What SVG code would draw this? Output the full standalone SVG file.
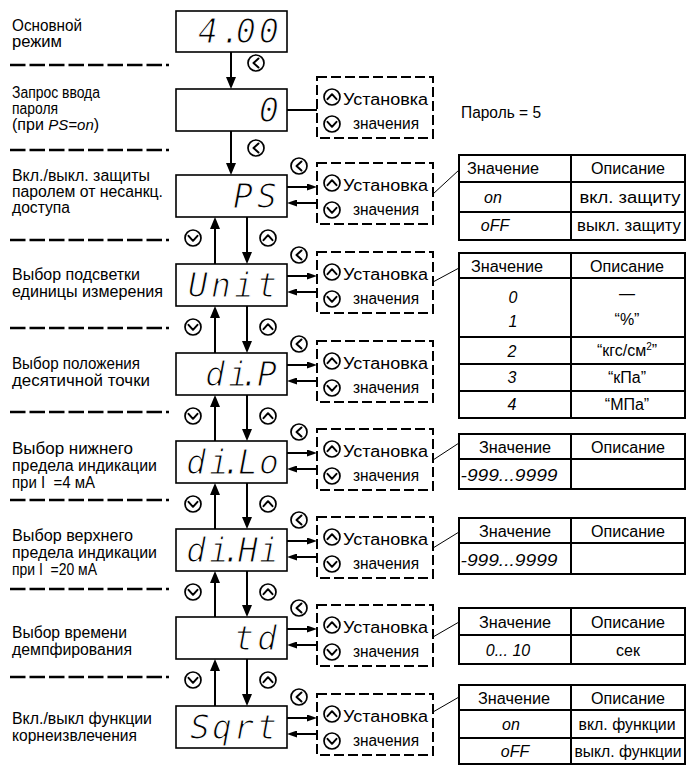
<svg xmlns="http://www.w3.org/2000/svg" xmlns:xlink="http://www.w3.org/1999/xlink" width="687" height="767" viewBox="0 0 687 767">
<style>
.lbl{font-family:"Liberation Sans",Arial,sans-serif;font-size:16px;fill:#000}
.seg{font-family:"DejaVu Sans Mono","Liberation Mono",monospace;font-style:oblique;font-size:33px;fill:#000;stroke:#fff;stroke-width:1.1}
.tv{font-family:"Liberation Sans",Arial,sans-serif;font-style:italic;font-size:16px;fill:#000;text-anchor:middle}
.tt{font-family:"Liberation Sans",Arial,sans-serif;font-size:16px;fill:#000;text-anchor:middle}
.disp{fill:#fff;stroke:#000;stroke-width:1.6}
.dbox{fill:none;stroke:#000;stroke-width:2;stroke-dasharray:10 4}
.sep{stroke:#000;stroke-width:2.5;stroke-dasharray:15.5 4;fill:none}
.tbl{fill:none;stroke:#000;stroke-width:2}
.ln{stroke:#000;stroke-width:2;fill:none}
.thin{stroke:#000;stroke-width:1;fill:none}
.bc{fill:#fff;stroke:#000;stroke-width:1.7}
.ch{fill:none;stroke:#000;stroke-width:2;stroke-linecap:round;stroke-linejoin:round}
</style>
<defs>
<marker id="av" viewBox="0 0 12 10" refX="2" refY="5" markerWidth="12" markerHeight="10" markerUnits="userSpaceOnUse" orient="auto"><path d="M0,0 L12,5 L0,10 z" fill="#000"/></marker>
<marker id="ahz" viewBox="0 0 10 7" refX="2" refY="3.5" markerWidth="10" markerHeight="7" markerUnits="userSpaceOnUse" orient="auto"><path d="M0,0 L10,3.5 L0,7 z" fill="#000"/></marker>
<g id="bL"><circle class="bc" r="8"/><polyline class="ch" points="2.5,-4.5 -2.5,0 2.5,4.5"/></g>
<g id="bU"><circle class="bc" r="8"/><polyline class="ch" points="-4.5,2.2 0,-2.8 4.5,2.2"/></g>
<g id="bD"><circle class="bc" r="8"/><polyline class="ch" points="-4.5,-2.2 0,2.8 4.5,-2.2"/></g>
</defs>

<g id="separators">
<line class="sep" x1="10" y1="65" x2="169" y2="65"/>
<line class="sep" x1="10" y1="150" x2="169" y2="150"/>
<line class="sep" x1="10" y1="240" x2="169" y2="240"/>
<line class="sep" x1="10" y1="328" x2="169" y2="328"/>
<line class="sep" x1="10" y1="412" x2="169" y2="412"/>
<line class="sep" x1="10" y1="500" x2="169" y2="500"/>
<line class="sep" x1="10" y1="589" x2="169" y2="589"/>
<line class="sep" x1="10" y1="677" x2="169" y2="677"/>
</g>

<g id="labels">
<text class="lbl" x="12" y="31" textLength="70" lengthAdjust="spacingAndGlyphs">Основной</text>
<text class="lbl" x="12" y="47" textLength="50" lengthAdjust="spacingAndGlyphs">режим</text>
<text class="lbl" x="12" y="98" textLength="88" lengthAdjust="spacingAndGlyphs">Запрос ввода</text>
<text class="lbl" x="12" y="114" textLength="46" lengthAdjust="spacingAndGlyphs">пароля</text>
<text class="lbl" x="12" y="130">(при <tspan font-style="italic" font-size="15">PS=on</tspan>)</text>
<text class="lbl" x="12" y="181" textLength="138" lengthAdjust="spacingAndGlyphs">Вкл./выкл. защиты</text>
<text class="lbl" x="12" y="197" textLength="151" lengthAdjust="spacingAndGlyphs">паролем от несанкц.</text>
<text class="lbl" x="12" y="213" textLength="58" lengthAdjust="spacingAndGlyphs">доступа</text>
<text class="lbl" x="12" y="280" textLength="128" lengthAdjust="spacingAndGlyphs">Выбор подсветки</text>
<text class="lbl" x="12" y="297" textLength="151" lengthAdjust="spacingAndGlyphs">единицы измерения</text>
<text class="lbl" x="12" y="369" textLength="128" lengthAdjust="spacingAndGlyphs">Выбор положения</text>
<text class="lbl" x="12" y="386" textLength="138" lengthAdjust="spacingAndGlyphs">десятичной точки</text>
<text class="lbl" x="12" y="454" textLength="121" lengthAdjust="spacingAndGlyphs">Выбор нижнего</text>
<text class="lbl" x="12" y="471" textLength="145" lengthAdjust="spacingAndGlyphs">предела индикации</text>
<text class="lbl" x="12" y="488" xml:space="preserve" textLength="83" lengthAdjust="spacingAndGlyphs">при I  =4 мА</text>
<text class="lbl" x="12" y="541" textLength="121" lengthAdjust="spacingAndGlyphs">Выбор верхнего</text>
<text class="lbl" x="12" y="558" textLength="145" lengthAdjust="spacingAndGlyphs">предела индикации</text>
<text class="lbl" x="12" y="575" xml:space="preserve" textLength="85" lengthAdjust="spacingAndGlyphs">при I  =20 мА</text>
<text class="lbl" x="12" y="638" textLength="115" lengthAdjust="spacingAndGlyphs">Выбор времени</text>
<text class="lbl" x="12" y="655" textLength="120" lengthAdjust="spacingAndGlyphs">демпфирования</text>
<text class="lbl" x="12" y="724" textLength="140" lengthAdjust="spacingAndGlyphs">Вкл./выкл функции</text>
<text class="lbl" x="12" y="741" textLength="125" lengthAdjust="spacingAndGlyphs">корнеизвлечения</text>
<text class="lbl" x="461" y="118" textLength="80" lengthAdjust="spacingAndGlyphs">Пароль = 5</text>
</g>

<g id="connectors">
<line class="ln" x1="231" y1="52" x2="231" y2="79" marker-end="url(#av)"/>
<line class="ln" x1="231" y1="131" x2="231" y2="165" marker-end="url(#av)"/>
<line class="ln" x1="215" y1="264" x2="215" y2="227" marker-end="url(#av)"/>
<line class="ln" x1="247" y1="217" x2="247" y2="254" marker-end="url(#av)"/>
<line class="ln" x1="215" y1="353" x2="215" y2="316" marker-end="url(#av)"/>
<line class="ln" x1="247" y1="306" x2="247" y2="343" marker-end="url(#av)"/>
<line class="ln" x1="215" y1="441" x2="215" y2="405" marker-end="url(#av)"/>
<line class="ln" x1="247" y1="395" x2="247" y2="431" marker-end="url(#av)"/>
<line class="ln" x1="215" y1="529" x2="215" y2="493" marker-end="url(#av)"/>
<line class="ln" x1="247" y1="483" x2="247" y2="519" marker-end="url(#av)"/>
<line class="ln" x1="215" y1="617" x2="215" y2="581" marker-end="url(#av)"/>
<line class="ln" x1="247" y1="571" x2="247" y2="607" marker-end="url(#av)"/>
<line class="ln" x1="215" y1="706" x2="215" y2="669" marker-end="url(#av)"/>
<line class="ln" x1="247" y1="659" x2="247" y2="696" marker-end="url(#av)"/>
<line class="ln" x1="287" y1="110" x2="317" y2="110"/>
<line class="ln" x1="287" y1="187" x2="309" y2="187" marker-end="url(#ahz)"/>
<line class="ln" x1="317" y1="203" x2="295" y2="203" marker-end="url(#ahz)"/>
<line class="ln" x1="287" y1="276" x2="309" y2="276" marker-end="url(#ahz)"/>
<line class="ln" x1="317" y1="292" x2="295" y2="292" marker-end="url(#ahz)"/>
<line class="ln" x1="287" y1="365" x2="309" y2="365" marker-end="url(#ahz)"/>
<line class="ln" x1="317" y1="381" x2="295" y2="381" marker-end="url(#ahz)"/>
<line class="ln" x1="287" y1="453" x2="309" y2="453" marker-end="url(#ahz)"/>
<line class="ln" x1="317" y1="469" x2="295" y2="469" marker-end="url(#ahz)"/>
<line class="ln" x1="287" y1="541" x2="309" y2="541" marker-end="url(#ahz)"/>
<line class="ln" x1="317" y1="557" x2="295" y2="557" marker-end="url(#ahz)"/>
<line class="ln" x1="287" y1="629" x2="309" y2="629" marker-end="url(#ahz)"/>
<line class="ln" x1="317" y1="645" x2="295" y2="645" marker-end="url(#ahz)"/>
<line class="ln" x1="287" y1="718" x2="309" y2="718" marker-end="url(#ahz)"/>
<line class="ln" x1="317" y1="734" x2="295" y2="734" marker-end="url(#ahz)"/>
<line class="thin" x1="433" y1="194" x2="459" y2="170"/>
<line class="thin" x1="433" y1="282" x2="459" y2="268"/>
<line class="thin" x1="433" y1="460" x2="459" y2="443"/>
<line class="thin" x1="433" y1="548" x2="459" y2="532"/>
<line class="thin" x1="433" y1="637" x2="459" y2="622"/>
<line class="thin" x1="433" y1="712" x2="459" y2="697"/>
<use xlink:href="#bL" x="256" y="63"/>
<use xlink:href="#bL" x="256" y="148"/>
<use xlink:href="#bD" x="193" y="238"/><use xlink:href="#bU" x="268" y="238"/>
<use xlink:href="#bD" x="193" y="327"/><use xlink:href="#bU" x="268" y="327"/>
<use xlink:href="#bD" x="193" y="416"/><use xlink:href="#bU" x="268" y="416"/>
<use xlink:href="#bD" x="193" y="504"/><use xlink:href="#bU" x="268" y="504"/>
<use xlink:href="#bD" x="193" y="592"/><use xlink:href="#bU" x="268" y="592"/>
<use xlink:href="#bD" x="193" y="680"/><use xlink:href="#bU" x="268" y="680"/>
</g>

<g id="n1"><rect class="disp" x="176" y="11" width="111" height="41"/><text class="seg" x="198 221 236 259" y="43">4.00</text></g>
<g id="n2"><rect class="disp" x="176" y="89" width="111" height="42"/><text class="seg" x="259" y="122">0</text></g>
<g id="n3"><rect class="disp" x="176" y="175" width="111" height="42"/><text class="seg" x="233 257" y="208">PS</text></g>
<g id="n4"><rect class="disp" x="176" y="264" width="111" height="42"/><text class="seg" x="188 211 234 257" y="297">Unit</text></g>
<g id="n5"><rect class="disp" x="176" y="353" width="111" height="42"/><text class="seg" x="205 228 240 257" y="386">di.P</text></g>
<g id="n6"><rect class="disp" x="176" y="441" width="111" height="42"/><text class="seg" x="186 209 222 238 259" y="474">di.Lo</text></g>
<g id="n7"><rect class="disp" x="176" y="529" width="111" height="42"/><text class="seg" x="186 209 222 238 259" y="562">di.Hi</text></g>
<g id="n8"><rect class="disp" x="176" y="617" width="111" height="42"/><text class="seg" x="234 257" y="650">td</text></g>
<g id="n9"><rect class="disp" x="176" y="706" width="111" height="42"/><text class="seg" x="190 212 234 257" y="739">Sqrt</text></g>

<g id="set2"><rect class="dbox" x="317" y="77" width="116" height="61"/><use xlink:href="#bU" x="332" y="97"/><use xlink:href="#bD" x="332" y="124"/><text class="lbl" x="343" y="104.5" textLength="85" lengthAdjust="spacingAndGlyphs">Установка</text><text class="lbl" x="353" y="128.5" textLength="66" lengthAdjust="spacingAndGlyphs">значения</text></g>
<g id="set3"><rect class="dbox" x="317" y="163" width="116" height="61"/><use xlink:href="#bU" x="332" y="183"/><use xlink:href="#bD" x="332" y="210"/><text class="lbl" x="343" y="190.5" textLength="85" lengthAdjust="spacingAndGlyphs">Установка</text><text class="lbl" x="353" y="214.5" textLength="66" lengthAdjust="spacingAndGlyphs">значения</text><use xlink:href="#bL" x="299" y="166"/></g>
<g id="set4"><rect class="dbox" x="317" y="252" width="116" height="61"/><use xlink:href="#bU" x="332" y="272"/><use xlink:href="#bD" x="332" y="299"/><text class="lbl" x="343" y="279.5" textLength="85" lengthAdjust="spacingAndGlyphs">Установка</text><text class="lbl" x="353" y="303.5" textLength="66" lengthAdjust="spacingAndGlyphs">значения</text><use xlink:href="#bL" x="299" y="255"/></g>
<g id="set5"><rect class="dbox" x="317" y="341" width="116" height="61"/><use xlink:href="#bU" x="332" y="361"/><use xlink:href="#bD" x="332" y="388"/><text class="lbl" x="343" y="368.5" textLength="85" lengthAdjust="spacingAndGlyphs">Установка</text><text class="lbl" x="353" y="392.5" textLength="66" lengthAdjust="spacingAndGlyphs">значения</text><use xlink:href="#bL" x="299" y="344"/></g>
<g id="set6"><rect class="dbox" x="317" y="429" width="116" height="61"/><use xlink:href="#bU" x="332" y="449"/><use xlink:href="#bD" x="332" y="476"/><text class="lbl" x="343" y="456.5" textLength="85" lengthAdjust="spacingAndGlyphs">Установка</text><text class="lbl" x="353" y="480.5" textLength="66" lengthAdjust="spacingAndGlyphs">значения</text><use xlink:href="#bL" x="299" y="432"/></g>
<g id="set7"><rect class="dbox" x="317" y="517" width="116" height="61"/><use xlink:href="#bU" x="332" y="537"/><use xlink:href="#bD" x="332" y="564"/><text class="lbl" x="343" y="544.5" textLength="85" lengthAdjust="spacingAndGlyphs">Установка</text><text class="lbl" x="353" y="568.5" textLength="66" lengthAdjust="spacingAndGlyphs">значения</text><use xlink:href="#bL" x="299" y="520"/></g>
<g id="set8"><rect class="dbox" x="317" y="605" width="116" height="61"/><use xlink:href="#bU" x="332" y="625"/><use xlink:href="#bD" x="332" y="652"/><text class="lbl" x="343" y="632.5" textLength="85" lengthAdjust="spacingAndGlyphs">Установка</text><text class="lbl" x="353" y="656.5" textLength="66" lengthAdjust="spacingAndGlyphs">значения</text><use xlink:href="#bL" x="299" y="608"/></g>
<g id="set9"><rect class="dbox" x="317" y="694" width="116" height="61"/><use xlink:href="#bU" x="332" y="714"/><use xlink:href="#bD" x="332" y="741"/><text class="lbl" x="343" y="721.5" textLength="85" lengthAdjust="spacingAndGlyphs">Установка</text><text class="lbl" x="353" y="745.5" textLength="66" lengthAdjust="spacingAndGlyphs">значения</text><use xlink:href="#bL" x="299" y="697"/></g>

<g id="t3"><rect class="tbl" x="459" y="155" width="226" height="85"/><path class="tbl" d="M571,155V240M459,182H685M459,212H685"/>
<text class="tt" x="503" y="174" textLength="72" lengthAdjust="spacingAndGlyphs">Значение</text><text class="tt" x="628" y="174" textLength="74" lengthAdjust="spacingAndGlyphs">Описание</text>
<text class="tv" x="493" y="203">on</text><text class="tt" x="630" y="203" textLength="101" lengthAdjust="spacingAndGlyphs">вкл. защиту</text>
<text class="tv" x="495" y="231">oFF</text><text class="tt" x="629" y="231" textLength="104" lengthAdjust="spacingAndGlyphs">выкл. защиту</text></g>

<g id="t4"><rect class="tbl" x="459" y="253" width="226" height="165"/><path class="tbl" d="M571,253V418M459,278H685M459,337H685M459,364H685M459,391H685"/>
<text class="tt" x="507" y="272" textLength="72" lengthAdjust="spacingAndGlyphs">Значение</text><text class="tt" x="627" y="272" textLength="74" lengthAdjust="spacingAndGlyphs">Описание</text>
<text class="tv" x="513" y="303">0</text><text class="tt" x="627" y="299">—</text>
<text class="tv" x="513" y="327">1</text><text class="tt" x="627" y="325">“%”</text>
<text class="tv" x="512" y="357">2</text><text class="tt" x="627" y="356">“кгс/см<tspan font-size="10" dy="-6">2</tspan><tspan dy="6">”</tspan></text>
<text class="tv" x="512" y="383">3</text><text class="tt" x="627" y="383">“кПа”</text>
<text class="tv" x="512" y="410">4</text><text class="tt" x="627" y="410">“МПа”</text></g>

<g id="t6"><rect class="tbl" x="459" y="434" width="226" height="55"/><path class="tbl" d="M571,434V489M459,459H685"/>
<text class="tt" x="515" y="453" textLength="72" lengthAdjust="spacingAndGlyphs">Значение</text><text class="tt" x="628" y="453" textLength="74" lengthAdjust="spacingAndGlyphs">Описание</text>
<text class="tv" x="509" y="481" textLength="97" lengthAdjust="spacingAndGlyphs">-999...9999</text></g>

<g id="t7"><rect class="tbl" x="459" y="518" width="226" height="56"/><path class="tbl" d="M571,518V574M459,543H685"/>
<text class="tt" x="515" y="537" textLength="72" lengthAdjust="spacingAndGlyphs">Значение</text><text class="tt" x="628" y="537" textLength="74" lengthAdjust="spacingAndGlyphs">Описание</text>
<text class="tv" x="509" y="566" textLength="97" lengthAdjust="spacingAndGlyphs">-999...9999</text></g>

<g id="t8"><rect class="tbl" x="459" y="608" width="226" height="56"/><path class="tbl" d="M571,608V664M459,635H685"/>
<text class="tt" x="515" y="628" textLength="72" lengthAdjust="spacingAndGlyphs">Значение</text><text class="tt" x="628" y="628" textLength="74" lengthAdjust="spacingAndGlyphs">Описание</text>
<text class="tv" x="508" y="656" xml:space="preserve">0... 10</text><text class="tt" x="628" y="656">сек</text></g>

<g id="t9"><rect class="tbl" x="459" y="685" width="226" height="79"/><path class="tbl" d="M571,685V764M459,710H685M459,738H685"/>
<text class="tt" x="514" y="704" textLength="72" lengthAdjust="spacingAndGlyphs">Значение</text><text class="tt" x="628" y="704" textLength="74" lengthAdjust="spacingAndGlyphs">Описание</text>
<text class="tv" x="511" y="730">on</text><text class="tt" x="627" y="730" textLength="97" lengthAdjust="spacingAndGlyphs">вкл. функции</text>
<text class="tv" x="515" y="757">oFF</text><text class="tt" x="628" y="757" textLength="107" lengthAdjust="spacingAndGlyphs">выкл. функции</text></g>
</svg>
